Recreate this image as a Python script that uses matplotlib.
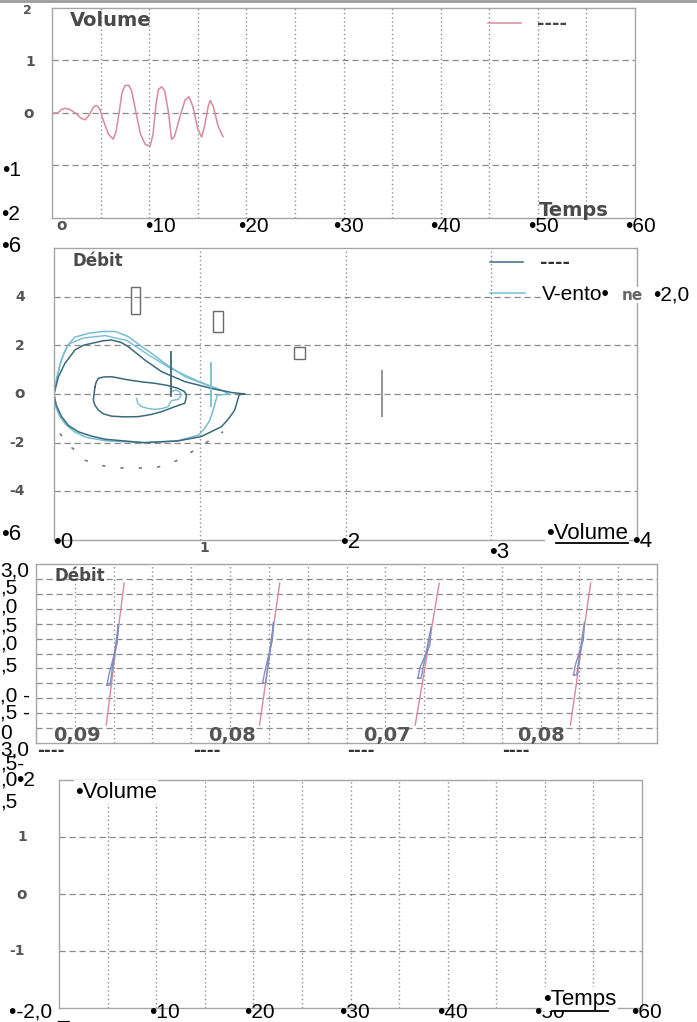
import matplotlib
matplotlib.use('Agg')
import matplotlib.pyplot as plt
from matplotlib import font_manager
from matplotlib.patches import Rectangle
from matplotlib.lines import Line2D

W, H = 697, 1022
names = {f.name for f in font_manager.fontManager.ttflist}
NARROW = 'Liberation Sans Narrow' if 'Liberation Sans Narrow' in names else 'Liberation Sans'

# ---------------- data ----------------
# Panel 1: Volume vs Temps
vol_t = [0.0, 0.6, 1.0, 1.4, 1.8, 2.4, 3.0, 3.4, 3.8, 4.3, 4.6, 4.9, 5.3, 5.8, 6.3, 6.6,
         6.9, 7.2, 7.5, 7.9, 8.2, 8.6, 9.1, 9.6, 10.1, 10.4, 10.7, 10.95, 11.3, 11.6, 12.0,
         12.3, 12.6, 13.2, 13.7, 14.1, 14.5, 15.0, 15.4, 15.7, 16.1, 16.3, 16.6, 17.1, 17.6]
vol_v = [0.0, 0.0, 0.07, 0.09, 0.07, 0.0, -0.1, -0.13, -0.05, 0.12, 0.14, 0.08, -0.15,
         -0.4, -0.5, -0.35, 0.0, 0.38, 0.52, 0.53, 0.42, 0.05, -0.4, -0.6, -0.63, -0.4,
         0.15, 0.45, 0.5, 0.42, 0.0, -0.5, -0.45, -0.05, 0.25, 0.31, 0.12, -0.3, -0.46,
         -0.25, 0.15, 0.24, 0.12, -0.25, -0.45]

# Panel 2: Débit vs Volume loops
loopA_x = [0.0, 0.02, 0.05, 0.09, 0.14, 0.24, 0.34, 0.42, 0.51, 0.59, 0.67, 0.76, 0.90,
           1.08, 1.17, 1.20, 1.12, 1.10, 1.07, 1.03, 0.99, 0.85, 0.62, 0.35, 0.22, 0.14,
           0.08, 0.04, 0.01, 0.0]
loopA_y = [0.0, 0.7, 1.40, 1.95, 2.33, 2.50, 2.57, 2.57, 2.36, 2.0, 1.67, 1.26, 0.71,
           0.30, 0.10, 0.0, -0.05, -0.5, -1.07, -1.45, -1.69, -1.92, -2.0, -1.92, -1.78,
           -1.55, -1.25, -0.93, -0.5, 0.0]
loopE_x = [0.0, 0.02, 0.04, 0.07, 0.10, 0.20, 0.35, 0.50, 0.65, 0.80, 1.00, 1.15]
loopE_y = [0.0, 0.6, 1.20, 1.70, 2.05, 2.30, 2.40, 2.20, 1.60, 1.05, 0.50, 0.15]
loopB_x = [0.0, 0.03, 0.075, 0.144, 0.20, 0.258, 0.33, 0.395, 0.46, 0.509, 0.623, 0.737,
           0.897, 1.08, 1.22, 1.31, 1.27, 1.26, 1.24, 1.20, 1.15, 1.01, 0.85, 0.62, 0.35,
           0.25, 0.166, 0.10, 0.052, 0.015, 0.0]
loopB_y = [0.0, 0.7, 1.26, 1.81, 2.0, 2.08, 2.18, 2.22, 2.12, 1.95, 1.40, 0.92, 0.51,
           0.23, 0.06, 0.0, -0.03, -0.25, -0.66, -1.0, -1.34, -1.75, -1.93, -2.0, -1.86,
           -1.72, -1.55, -1.3, -0.93, -0.45, 0.0]
loopC_x = [0.281, 0.29, 0.304, 0.34, 0.395, 0.509, 0.60, 0.692, 0.78, 0.852, 0.895,
           0.909, 0.905, 0.897, 0.829, 0.737, 0.66, 0.578, 0.48, 0.395, 0.34, 0.304, 0.28,
           0.27, 0.281]
loopC_y = [0.30, 0.50, 0.64, 0.70, 0.71, 0.58, 0.50, 0.44, 0.35, 0.23, 0.10, -0.04, -0.2,
           -0.38, -0.52, -0.73, -0.85, -0.93, -0.94, -0.91, -0.82, -0.66, -0.45, -0.25,
           0.30]
loopD_x = [0.566, 0.575, 0.60, 0.65, 0.692, 0.74, 0.783, 0.806, 0.852, 0.874, 0.86, 0.84,
           0.80]
loopD_y = [-0.18, -0.38, -0.52, -0.60, -0.63, -0.60, -0.52, -0.27, -0.22, -0.04, 0.10,
           0.16, 0.10]
arc_x = [0.041, 0.087, 0.155, 0.212, 0.304, 0.42, 0.532, 0.715, 0.852, 0.966, 1.16]
arc_y = [-1.62, -2.03, -2.37, -2.72, -2.92, -3.02, -3.06, -3.0, -2.72, -2.3, -1.55]
rect_x = [0.53, 1.09, 1.65]
rect_y = [3.30, 2.55, 1.44]
rect_w = [0.06, 0.07, 0.07]
rect_h = [1.10, 0.85, 0.49]
vl_x = [0.80, 1.08, 2.25]
vl_y0 = [-0.12, -0.53, -0.95]
vl_y1 = [1.77, 1.32, 1.00]

# Panel 3: Débit cycles
pink_x0 = [1.81, 5.76, 9.77, 13.77]
pink_x1 = [2.27, 6.28, 10.39, 14.29]
pink_y0 = [-2.40, -2.40, -2.40, -2.40]
pink_y1 = [2.36, 2.36, 2.36, 2.36]
blue_x0 = [1.83, 5.84, 9.84, 13.85]
blue_y0 = [-1.06, -0.99, -0.83, -0.72]
blue_x1 = [2.12, 6.12, 10.18, 14.13]
blue_y1 = [0.95, 1.05, 0.89, 1.05]
cycle_labels = ['0,09', '0,08', '0,07', '0,08']

# ---------------- figure ----------------
fig = plt.figure(figsize=(W / 100, H / 100), dpi=100)
fig.patch.set_facecolor('white')

def fx(px):
    return px / W

def fy(py):
    return 1 - py / H

def T(px, py, s, size=15, color='black', family=None, ha='left', va='center',
      weight='normal', bg=False, z=5):
    kw = {}
    if bg:
        kw['bbox'] = dict(fc='white', ec='none', pad=1)
    fig.text(fx(px), fy(py), s, fontsize=size, color=color,
             family=family if family else NARROW, ha=ha, va=va,
             weight=weight, zorder=z, **kw)

def G(px, py, s, size=10, ha='center', bg=False):
    T(px, py, s, size=size, color='#555555', family='DejaVu Sans', ha=ha, weight='bold',
      bg=bg)

def ULINE(x0, x1, py, lw=1.3):
    fig.add_artist(Line2D([fx(x0), fx(x1)], [fy(py), fy(py)], color='black', lw=lw,
                          transform=fig.transFigure, zorder=6))

def style(ax, xt, yt):
    ax.set_xticks(xt)
    ax.set_yticks(yt)
    ax.tick_params(length=0, labelbottom=False, labelleft=False)
    ax.xaxis.grid(True, ls=(0, (1, 2)), color='#8f8f8f', lw=1.0)
    ax.yaxis.grid(True, ls=(0, (5, 3)), color='#8a8a8a', lw=0.9)
    for s in ax.spines.values():
        s.set_color('#a5a5a5')
        s.set_linewidth(1)
    ax.set_axisbelow(True)

LABEL_GRAY = '#4a4a4a'
PINK = '#d88a98'
DARK = '#3a6a7c'
LIGHT = '#76bdd1'

# ---------- Panel 1 ----------
ax1 = fig.add_axes([fx(52), fy(218), (635 - 52) / W, (218 - 8) / H])
ax1.set_xlim(0, 60)
ax1.set_ylim(-2, 2)
style(ax1, range(5, 60, 5), [-1, 0, 1])
l1, = ax1.plot(vol_t, vol_v, color=PINK, lw=1.1)
leg1 = ax1.legend([l1], ['----'], loc='center left',
                  bbox_to_anchor=((488 - 52) / 583, 1 - (24 - 8) / 210),
                  frameon=False, borderpad=0, borderaxespad=0, handlelength=1.8,
                  handletextpad=0.9, prop=dict(family='DejaVu Sans', weight='bold', size=13))
leg1.get_texts()[0].set_color('#444')

T(70, 20, 'Volume', size=14, color=LABEL_GRAY, family='DejaVu Sans', weight='bold')
T(539, 210, 'Temps', size=14, color=LABEL_GRAY, family='DejaVu Sans', weight='bold')
G(27, 10, '2', size=9)
G(30, 62, '1')
G(29, 114, 'o', size=11)
T(2, 170, '•1')
T(1, 215, '•2')
G(62, 226, 'o', size=11)
for px, s in zip([145, 238, 333, 430, 528, 625], ['•10', '•20', '•30', '•40', '•50', '•60']):
    T(px, 226, s)

# ---------- Panel 2 ----------
ax2 = fig.add_axes([fx(54), fy(540), (637 - 54) / W, (540 - 248) / H])
ax2.set_xlim(0, 4)
ax2.set_ylim(-6, 6)
style(ax2, [1, 2, 3], [-4, -2, 0, 2, 4])
ax2.plot(arc_x, arc_y, color='#7a7a7a', lw=1.2, ls=(0, (2, 9)))
lA, = ax2.plot(loopA_x, loopA_y, color=LIGHT, lw=1.1)
ax2.plot(loopE_x, loopE_y, color=LIGHT, lw=1.0)
ax2.plot(loopD_x, loopD_y, color=LIGHT, lw=1.0)
lB, = ax2.plot(loopB_x, loopB_y, color=DARK, lw=1.1)
ax2.plot(loopC_x, loopC_y, color=DARK, lw=1.1)
ax2.vlines(vl_x, vl_y0, vl_y1, colors=[DARK, LIGHT, '#8a8a8a'], lw=1.3)
for x, y, w, h in zip(rect_x, rect_y, rect_w, rect_h):
    ax2.add_patch(Rectangle((x, y), w, h, fill=False, ec='#6a6a6a', lw=1.0))

leg2a = ax2.legend([lB], ['----'], loc='center left',
                   bbox_to_anchor=((490 - 54) / 583, 1 - (263 - 248) / 292),
                   frameon=False, borderpad=0, borderaxespad=0, handlelength=1.8,
                   handletextpad=0.95, prop=dict(family='DejaVu Sans', weight='bold', size=13))
leg2a.get_texts()[0].set_color('#333')
ax2.add_artist(leg2a)
leg2b = ax2.legend([lA], ['V-ento•'], loc='center left',
                   bbox_to_anchor=((490 - 54) / 583, 1 - (295 - 248) / 292),
                   frameon=False, borderpad=0, borderaxespad=0, handlelength=1.7,
                   handletextpad=0.8, prop=dict(family=NARROW, size=15))
leg2b.get_texts()[0].set_bbox(dict(fc='white', ec='none', pad=1))
fig.add_artist(Rectangle((fx(608), fy(303)), fx(697 - 608), 16 / H,
                         transform=fig.transFigure, fc='white', ec='none', zorder=4))
T(622, 295, 'ne', size=11, color='#666', family='DejaVu Sans', weight='bold')
T(653, 295, '•2,0')

T(72, 261, 'Débit', size=12, color=LABEL_GRAY, family='DejaVu Sans', weight='bold')
T(1, 246, '•6', size=16)
G(20, 297, '4')
G(20, 346, '2')
G(20, 394, 'o', size=11)
G(17, 443, '-2')
G(17, 491, '-4')
T(1, 535, '•6', size=16)
T(53, 543, '•0', size=16)
G(204, 548, '1')
T(340, 543, '•2', size=16)
T(489, 552, '•3', size=16)
T(546, 533, '•Volume', size=16, bg=True)
ULINE(556, 628, 543)
T(632, 541, '•4', size=16)

# ---------- Panel 3 ----------
ax3 = fig.add_axes([fx(36), fy(743), (657 - 36) / W, (743 - 564) / H])
ax3.set_xlim(0, 16)
ax3.set_ylim(-3, 3)
style(ax3, range(1, 16), [-2.5, -2, -1.5, -1, -0.5, 0, 0.5, 1, 1.5, 2, 2.5])
for i in range(len(pink_x0)):
    ax3.plot([pink_x0[i], pink_x1[i]], [pink_y0[i], pink_y1[i]], color=PINK, lw=1.0)
    bx = [blue_x0[i], blue_x0[i] + 0.08, blue_x1[i], blue_x1[i] - 0.03,
          blue_x0[i] + 0.05, blue_x0[i]]
    by = [blue_y0[i], blue_y0[i], blue_y1[i], blue_y1[i] - 0.6,
          blue_y0[i] + 0.35, blue_y0[i]]
    ax3.plot(bx, by, color='#7f8fc4', lw=1.0)

T(55, 576, 'Débit', size=12, color=LABEL_GRAY, family='DejaVu Sans', weight='bold')
for px, s in zip([53, 208, 363, 517], cycle_labels):
    T(px, 735, s, size=14, color='#555555', family='DejaVu Sans', weight='bold', z=4)
for px in [37, 193, 347, 502]:
    T(px, 751, '----', size=12, color='#333', family='DejaVu Sans', weight='bold', z=8)

ylab3 = ['3,0', ',5', ',0', ',5', ',0', ',5', ',0 -', ',5 -', '0']
ylab3_y = [571, 588, 607, 626, 644, 666, 696, 713, 733]
for s, py in zip(ylab3, ylab3_y):
    T(0, py, s, size=15, z=4)
fig.add_artist(Rectangle((0, fy(766)), fx(34), (766 - 741) / H, transform=fig.transFigure,
                         fc='white', ec='none', zorder=7))
for s, py in zip(['3,0', ',5-', ',0', ',5'], [750, 764, 780, 802]):
    T(0, py, s, size=15, z=8)
T(16, 780, '•2', size=15, z=8)

# ---------- Panel 4 ----------
ax4 = fig.add_axes([fx(59), fy(1008), (642 - 59) / W, (1008 - 780) / H])
ax4.set_xlim(0, 60)
ax4.set_ylim(-2, 2)
style(ax4, range(5, 60, 5), [-1, 0, 1])

T(75, 792, '•Volume', size=16, bg=True)
G(22, 837, '1')
G(22, 894, 'o', size=11)
G(17, 951, '-1')
T(9, 1012, '•-2,0 _', size=15)
for px, s in zip([149, 244, 339, 437, 534, 631], ['•10', '•20', '•30', '•40', '•50', '•60']):
    T(px, 1012, s, size=15)
T(543, 999, '•Temps', size=16, bg=True)
ULINE(552, 608, 1011)

# top border of the scan
fig.add_artist(Rectangle((0, fy(3)), 1, 3 / H, transform=fig.transFigure,
                         fc='white', ec='none', zorder=6))
fig.add_artist(Line2D([0, 1], [fy(1), fy(1)], color='#9a9a9a', lw=2,
                      transform=fig.transFigure, zorder=7))

fig.savefig('out.png', dpi=100, facecolor='white')
